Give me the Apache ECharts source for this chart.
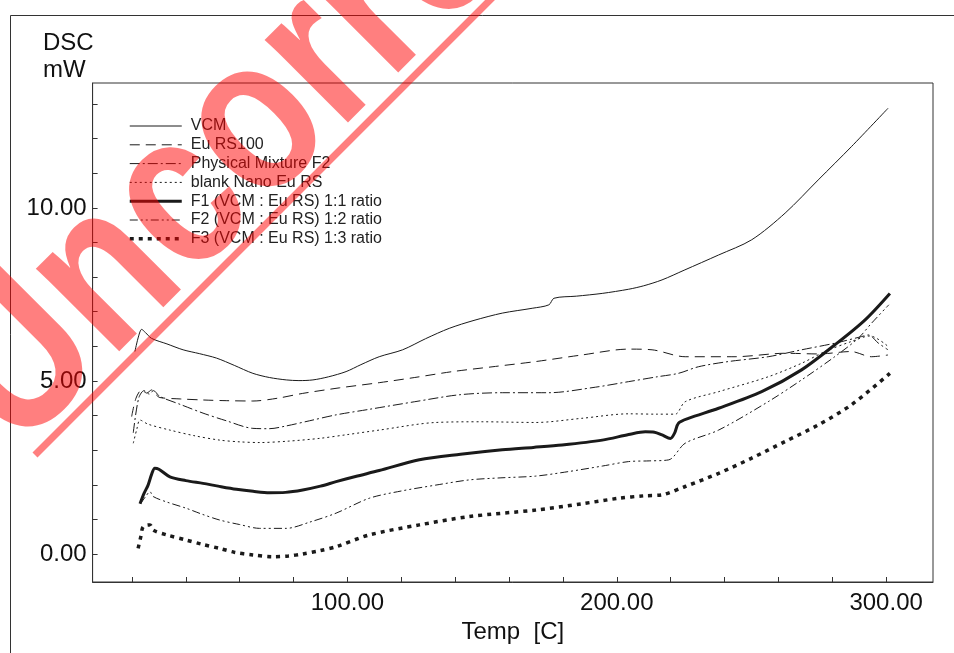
<!DOCTYPE html>
<html>
<head>
<meta charset="utf-8">
<script src="https://cdn.jsdelivr.net/npm/echarts@6/dist/echarts.min.js"></script>
<style>
  html, body { margin: 0; padding: 0; background: #fff; }
</style>
</head>
<body>
<div id="dscChart" style="width:954px;height:653px;"></div>
<script>
// series names (legend order)
var names = ['VCM', 'Eu RS100', 'Physical Mixture F2', 'blank Nano Eu RS',
  'F1 (VCM : Eu RS) 1:1 ratio', 'F2 (VCM : Eu RS) 1:2 ratio', 'F3 (VCM : Eu RS) 1:3 ratio'];

// Temp [C] / DSC [mW]
var vcmT = [21.1, 22.5, 23.6, 25.0, 27.3, 33, 39.0, 45, 51.4, 58, 64.9, 71, 77.3, 82, 87.2, 93, 99.5, 105, 111.8, 120.5, 129, 137.8, 147, 157.5, 168.6, 174.8, 176.7, 185, 194.6, 204.4, 210, 216.8, 225, 237.8, 250.1, 262.5, 274.8, 287.1, 300.7];
var vcmV = [5.85, 6.3, 6.49, 6.4, 6.23, 6.07, 5.90, 5.79, 5.66, 5.45, 5.22, 5.10, 5.03, 5.01, 5.03, 5.12, 5.27, 5.47, 5.70, 5.90, 6.22, 6.52, 6.75, 6.96, 7.10, 7.20, 7.39, 7.45, 7.53, 7.65, 7.75, 7.92, 8.2, 8.64, 9.08, 9.85, 10.81, 11.77, 12.88];

var euT = [19.9, 21.5, 23.6, 25.5, 27.3, 29, 30.4, 38, 46.4, 55, 64.9, 74, 83.4, 97, 111.8, 125, 139.0, 155, 169.9, 187, 204.4, 213.1, 225.4, 243.9, 262.5, 275, 287, 294.5, 300.7];
var euV = [3.97, 4.5, 4.74, 4.65, 4.74, 4.6, 4.52, 4.48, 4.45, 4.43, 4.42, 4.50, 4.64, 4.80, 4.95, 5.1, 5.27, 5.42, 5.56, 5.75, 5.92, 5.9, 5.70, 5.70, 5.80, 5.78, 5.85, 5.70, 5.75];

var pmT = [20.5, 22.5, 24.5, 26.5, 28, 30.4, 38, 46.4, 55, 64.9, 71, 77.3, 86, 95.8, 108.1, 125, 141.5, 157.5, 174.8, 192.1, 204.4, 215, 222.9, 230.3, 241.4, 256.2, 268.6, 280.9, 290.8, 293.5, 297, 300.7];
var pmV = [3.5, 4.5, 4.72, 4.62, 4.72, 4.55, 4.32, 4.07, 3.85, 3.63, 3.62, 3.70, 3.85, 4.02, 4.18, 4.40, 4.60, 4.66, 4.66, 4.82, 4.98, 5.12, 5.22, 5.41, 5.56, 5.70, 5.90, 6.09, 6.28, 6.33, 6.1, 5.90];

var blankT = [20.5, 21.8, 23.0, 26, 34.1, 43, 52.6, 60, 67.4, 78, 89.6, 100, 111.8, 132.8, 150, 169.9, 187, 204.4, 215, 221.7, 225.4, 237.8, 256.2, 268.6, 277.3, 287.1, 294, 300.7];
var blankV = [3.20, 3.6, 3.87, 3.75, 3.58, 3.42, 3.29, 3.24, 3.22, 3.26, 3.34, 3.45, 3.58, 3.80, 3.82, 3.80, 3.92, 4.05, 4.04, 4.04, 4.40, 4.69, 5.12, 5.51, 5.85, 6.14, 6.3, 6.0];

var f1T = [23.0, 24.5, 26.0, 27.3, 28.5, 30, 34.1, 40, 46.4, 52, 58.8, 65, 71.1, 77, 83.4, 90, 95.8, 103, 111.8, 126.7, 142, 157.5, 169, 179.7, 194.6, 204.4, 210.6, 214, 216.8, 219.9, 221.5, 222.9, 226.6, 237.8, 253.8, 268.6, 280.9, 292.1, 301.4];
var f1V = [1.45, 1.75, 1.99, 2.3, 2.48, 2.45, 2.23, 2.12, 2.04, 1.96, 1.87, 1.81, 1.77, 1.78, 1.85, 1.96, 2.09, 2.24, 2.41, 2.72, 2.88, 3.01, 3.08, 3.15, 3.29, 3.45, 3.53, 3.52, 3.44, 3.34, 3.5, 3.78, 3.92, 4.21, 4.69, 5.32, 6.04, 6.76, 7.53];

var f2T = [23.2, 25, 26.7, 27.9, 33, 40.2, 46, 52.6, 60, 67.4, 77.3, 86, 95.8, 108.1, 120, 132.8, 145.2, 157, 169.9, 182, 194.6, 204.4, 212, 219.3, 225.4, 237.8, 256.2, 268.6, 280.9, 289.6, 294.6, 301];
var f2V = [1.45, 1.65, 1.80, 1.66, 1.50, 1.32, 1.15, 0.98, 0.85, 0.74, 0.74, 0.92, 1.18, 1.61, 1.82, 1.99, 2.14, 2.20, 2.25, 2.38, 2.54, 2.67, 2.69, 2.72, 3.20, 3.58, 4.40, 5.03, 5.70, 6.23, 6.67, 7.20];

var f3T = [22.3, 23.3, 24.2, 26.7, 27.9, 33, 40.2, 46, 52.6, 58, 64.9, 72.3, 78, 83.4, 90, 95.8, 108.1, 126.7, 145.2, 169.9, 187, 200.7, 210, 216.8, 225.4, 237.8, 250.1, 262.5, 274.8, 287.1, 301.4];
var f3V = [0.16, 0.5, 0.79, 0.84, 0.69, 0.55, 0.40, 0.28, 0.16, 0.05, -0.03, -0.08, -0.06, 0.0, 0.10, 0.21, 0.55, 0.84, 1.08, 1.27, 1.45, 1.61, 1.68, 1.71, 1.95, 2.33, 2.77, 3.25, 3.73, 4.31, 5.22];

// ticks
var xTicks = [20, 40, 60, 80, 100, 120, 140, 160, 180, 200, 220, 240, 260, 280, 300];
var xLabels = [100, 200, 300];
var yTicks = [0, 1, 2, 3, 4, 5, 6, 7, 8, 9, 10, 11, 12, 13];
var yLabels = [0, 5, 10];

function pairs(t, v) {
  var out = [];
  for (var i = 0; i < t.length; i++) out.push([t[i], v[i]]);
  return out;
}

var lineColor = '#1a1a1a';
var styles = [
  {width: 1, type: 'solid'},
  {width: 1, type: [10, 6]},
  {width: 1, type: [10, 3, 2, 3]},
  {width: 1, type: [2, 3]},
  {width: 3, type: 'solid'},
  {width: 1, type: [8, 3, 2, 3, 2, 3]},
  {width: 3.5, type: [4, 5]}
];
var datas = [pairs(vcmT, vcmV), pairs(euT, euV), pairs(pmT, pmV), pairs(blankT, blankV),
  pairs(f1T, f1V), pairs(f2T, f2V), pairs(f3T, f3V)];

var series = [];
var legendData = [];
for (var i = 0; i < names.length; i++) {
  series.push({
    name: names[i],
    type: 'line',
    symbol: 'none',
    smooth: 0.3,
    animation: false,
    lineStyle: {color: lineColor, width: styles[i].width, type: styles[i].type},
    itemStyle: {color: lineColor},
    data: datas[i]
  });
  legendData.push({name: names[i], lineStyle: {width: styles[i].width, type: styles[i].type}});
}

var chart = echarts.init(document.getElementById('dscChart'));
chart.setOption({
  backgroundColor: '#fff',
  animation: false,
  grid: {left: 92.6, top: 83, right: 21, bottom: 71, show: true, borderColor: '#333', borderWidth: 1},
  legend: {
    orient: 'vertical',
    left: 128,
    top: 118,
    padding: 0,
    itemWidth: 52,
    itemHeight: 14,
    itemGap: 2.8,
    itemStyle: {opacity: 0},
    textStyle: {fontFamily: 'Liberation Sans', fontSize: 16, color: '#222', lineHeight: 16, padding: [0, 0, 0, 4]},
    data: legendData
  },
  xAxis: {
    type: 'value',
    min: 5.4,
    max: 317.4,
    name: 'Temp  [C]',
    nameLocation: 'middle',
    nameGap: 34,
    nameTextStyle: {fontFamily: 'Liberation Sans', fontSize: 24, color: '#111'},
    splitLine: {show: false},
    axisLine: {show: true, onZero: false, lineStyle: {color: '#333'}},
    axisTick: {show: true, inside: true, length: 5, customValues: xTicks, lineStyle: {color: '#333'}},
    axisLabel: {
      customValues: xLabels,
      margin: 9,
      fontFamily: 'Liberation Sans', fontSize: 24, color: '#111',
      formatter: function (v) { return v.toFixed(2); }
    }
  },
  yAxis: {
    type: 'value',
    min: -0.81,
    max: 13.61,
    splitLine: {show: false},
    axisLine: {show: true, onZero: false, lineStyle: {color: '#333'}},
    axisTick: {show: true, inside: true, length: 5, customValues: yTicks, lineStyle: {color: '#333'}},
    axisLabel: {
      customValues: yLabels,
      margin: 6,
      fontFamily: 'Liberation Sans', fontSize: 24, color: '#111',
      formatter: function (v) { return v.toFixed(2); }
    }
  },
  graphic: [
    {type: 'rect', z: 0, shape: {x: 10.5, y: 15.5, width: 1000, height: 1000},
      style: {fill: 'none', stroke: '#333', lineWidth: 1}},
    {type: 'text', x: 43, y: 30, style: {text: 'DSC\nmW', font: '24px "Liberation Sans"', fill: '#111', lineHeight: 27}},
    // watermark
    {type: 'text', z: 100, x: -26, y: 410, rotation: Math.PI / 4, scaleX: 0.82,
      style: {text: 'Uncorrected', font: 'bold 222px "Liberation Sans"', fill: 'rgba(255,0,0,0.5)', align: 'left', verticalAlign: 'middle'}},
    {type: 'line', z: 100, shape: {x1: 35, y1: 455, x2: 505, y2: -15},
      style: {stroke: 'rgba(255,0,0,0.5)', lineWidth: 7}}
  ],
  series: series
});
</script>
</body>
</html>
